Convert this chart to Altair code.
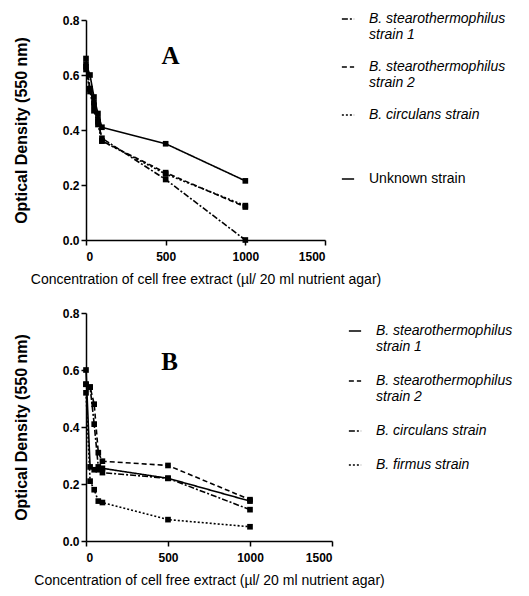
import altair as alt
import pandas as pd

conc = [0, 25, 50, 75, 100, 500, 1000]

# Panel A
a_series = ["B. stearothermophilus|strain 1", "B. stearothermophilus|strain 2",
            "B. circulans strain| | ", "Unknown strain"]
a_s1 = [0.66, 0.55, 0.49, 0.43, 0.37, 0.22, 0.00]
a_s2 = [0.63, 0.55, 0.50, 0.44, 0.36, 0.245, 0.12]
a_circ = [0.62, 0.54, 0.47, 0.42, 0.36, 0.24, 0.125]
a_unk = [0.64, 0.60, 0.52, 0.46, 0.41, 0.35, 0.215]
a_dash = [[6, 2, 2, 2], [5, 3], [2, 2], [1, 0]]

# Panel B
b_series = ["B. stearothermophilus|strain 1", "B. stearothermophilus|strain 2",
            "B. circulans strain", "B. firmus strain"]
b_s1 = [0.60, 0.26, 0.25, 0.25, 0.255, 0.22, 0.14]
b_s2 = [0.55, 0.54, 0.48, 0.31, 0.28, 0.265, 0.145]
b_circ = [0.55, 0.54, 0.41, 0.26, 0.24, 0.22, 0.11]
b_firm = [0.52, 0.21, 0.18, 0.14, 0.135, 0.075, 0.05]
b_dash = [[1, 0], [5, 3], [6, 2, 2, 2], [2, 2]]

x_ticks = [0, 500, 1000, 1500]
y_ticks = [0.0, 0.2, 0.4, 0.6, 0.8]
x_title = "Concentration of cell free extract (µl/ 20 ml nutrient agar)"
y_title = "Optical Density (550 nm)"


def make_df(names, values):
    rows = []
    for n, vals in zip(names, values):
        for c, v in zip(conc, vals):
            rows.append({"conc": c, "od": v, "series": n})
    return pd.DataFrame(rows)


def panel(names, values, dashes, label, lab_x, lab_y, w, h, leg_y, row_pad):
    df = make_df(names, values)
    x = alt.X("conc:Q", title=x_title,
              scale=alt.Scale(domain=[0, 1500], nice=False),
              axis=alt.Axis(values=x_ticks, format="d"))
    y = alt.Y("od:Q", title=y_title,
              scale=alt.Scale(domain=[0, 0.8], nice=False),
              axis=alt.Axis(values=y_ticks, format=".1f"))
    lines = alt.Chart(df).mark_line(color="black", strokeWidth=1.6).encode(
        x=x, y=y,
        strokeDash=alt.StrokeDash(
            "series:N",
            scale=alt.Scale(domain=names, range=dashes),
            legend=alt.Legend(
                title=None,
                labelExpr="split(datum.label, '|')",
                orient="none",
                legendX=w + 16,
                legendY=leg_y,
                rowPadding=row_pad,
                labelFontStyle=alt.ExprRef(
                    "indexof(datum.label, 'Unknown') >= 0 ? 'normal' : 'italic'"),
            ),
        ),
    )
    pts = alt.Chart(df).mark_point(shape="square", filled=True, color="black",
                                   size=32, opacity=1).encode(x=x, y=y)
    lab_df = pd.DataFrame({"conc": [lab_x], "od": [lab_y], "t": [label]})
    txt = alt.Chart(lab_df).mark_text(font="Liberation Serif", fontWeight="bold",
                                      fontSize=25, color="black").encode(
        x="conc:Q", y="od:Q", text="t:N")
    return alt.layer(lines, pts, txt).properties(width=w, height=h)


chart_a = panel(a_series, [a_s1, a_s2, a_circ, a_unk], a_dash, "A", 530, 0.67, 239, 220, -8, 18)
chart_b = panel(b_series, [b_s1, b_s2, b_circ, b_firm], b_dash, "B", 510, 0.628, 246, 228, 11, 20)

chart = alt.vconcat(chart_a, chart_b, spacing=21).resolve_scale(
    strokeDash="independent"
).resolve_legend(strokeDash="independent").properties(
    padding={"top": 4, "left": 5, "right": 5, "bottom": 5}
).configure_view(
    stroke=None
).configure_axis(
    grid=False,
    domainColor="black",
    domainWidth=1.5,
    tickColor="black",
    tickWidth=1.5,
    tickSize=5,
    labelFont="Liberation Sans",
    labelFontSize=12,
    labelFontWeight="bold",
    labelColor="black",
    titleFont="Liberation Sans",
    titleColor="black",
).configure_axisY(
    titleFontWeight="bold",
    titleFontSize=16,
    titlePadding=33,
).configure_axisX(
    titleFontWeight="normal",
    titleFontSize=14,
    labelPadding=6,
    titlePadding=10,
).configure_legend(
    labelFont="Liberation Sans",
    labelFontSize=14,
    labelColor="black",
    labelOffset=14,
    symbolType="stroke",
    symbolStrokeColor="black",
    symbolStrokeWidth=1.6,
    symbolSize=150,
    labelLimit=220,
)

chart.save("out.html", embed_options={"renderer": "svg", "actions": False})
